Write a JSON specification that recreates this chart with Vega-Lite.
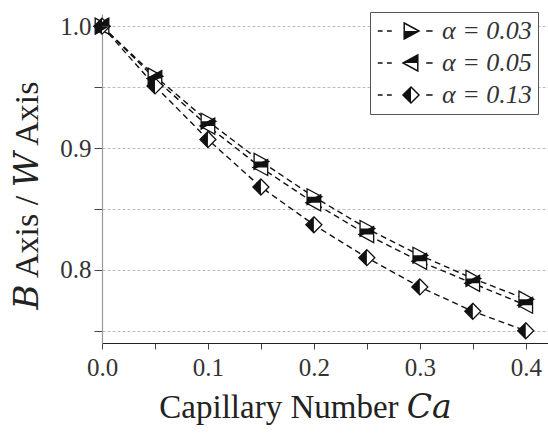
{
  "$schema": "https://vega.github.io/schema/vega-lite/v6.json",
  "width": 446,
  "height": 329,
  "autosize": {"type": "none"},
  "padding": {"left": 102, "top": 14, "right": 0, "bottom": 91},
  "background": "white",
  "data": {
    "values": [
      {"Ca": 0.0, "ratio": 1.0, "series": "α = 0.03"},
      {"Ca": 0.05, "ratio": 0.959, "series": "α = 0.03"},
      {"Ca": 0.1, "ratio": 0.922, "series": "α = 0.03"},
      {"Ca": 0.15, "ratio": 0.889, "series": "α = 0.03"},
      {"Ca": 0.2, "ratio": 0.86, "series": "α = 0.03"},
      {"Ca": 0.25, "ratio": 0.834, "series": "α = 0.03"},
      {"Ca": 0.3, "ratio": 0.812, "series": "α = 0.03"},
      {"Ca": 0.35, "ratio": 0.793, "series": "α = 0.03"},
      {"Ca": 0.4, "ratio": 0.776, "series": "α = 0.03"},
      {"Ca": 0.0, "ratio": 1.0, "series": "α = 0.05"},
      {"Ca": 0.05, "ratio": 0.957, "series": "α = 0.05"},
      {"Ca": 0.1, "ratio": 0.918, "series": "α = 0.05"},
      {"Ca": 0.15, "ratio": 0.884, "series": "α = 0.05"},
      {"Ca": 0.2, "ratio": 0.855, "series": "α = 0.05"},
      {"Ca": 0.25, "ratio": 0.829, "series": "α = 0.05"},
      {"Ca": 0.3, "ratio": 0.807, "series": "α = 0.05"},
      {"Ca": 0.35, "ratio": 0.789, "series": "α = 0.05"},
      {"Ca": 0.4, "ratio": 0.771, "series": "α = 0.05"},
      {"Ca": 0.0, "ratio": 1.0, "series": "α = 0.13"},
      {"Ca": 0.05, "ratio": 0.951, "series": "α = 0.13"},
      {"Ca": 0.1, "ratio": 0.907, "series": "α = 0.13"},
      {"Ca": 0.15, "ratio": 0.868, "series": "α = 0.13"},
      {"Ca": 0.2, "ratio": 0.837, "series": "α = 0.13"},
      {"Ca": 0.25, "ratio": 0.81, "series": "α = 0.13"},
      {"Ca": 0.3, "ratio": 0.786, "series": "α = 0.13"},
      {"Ca": 0.35, "ratio": 0.766, "series": "α = 0.13"},
      {"Ca": 0.4, "ratio": 0.75, "series": "α = 0.13"}
    ]
  },
  "encoding": {
    "x": {
      "field": "Ca",
      "type": "quantitative",
      "scale": {"domain": [0, 0.421], "nice": false},
      "axis": {
        "title": "Capillary Number 𝐶𝑎",
        "values": [0, 0.05, 0.1, 0.15, 0.2, 0.25, 0.3, 0.35, 0.4],
        "labelExpr": "abs(datum.value*10 - round(datum.value*10)) < 0.000001 ? format(datum.value, '.1f') : ''",
        "labelFlush": false,
        "grid": false,
        "tickSize": 6,
        "labelPadding": 6,
        "domainColor": "#222",
        "titleX": 203,
        "titleY": 74,
        "titleAlign": "center",
        "titleBaseline": "alphabetic",
        "titleFontSize": 33
      }
    },
    "y": {
      "field": "ratio",
      "type": "quantitative",
      "scale": {"domain": [0.74, 1.01], "nice": false, "zero": false},
      "axis": {
        "title": "𝐵 Axis / 𝑊 Axis",
        "values": [0.75, 0.8, 0.85, 0.9, 0.95, 1.0],
        "labelExpr": "abs(datum.value*10 - round(datum.value*10)) < 0.000001 ? format(datum.value, '.1f') : ''",
        "labelFlush": false,
        "grid": true,
        "gridColor": "#bdbdbd",
        "gridDash": [3, 2],
        "gridWidth": 1,
        "tickSize": 8,
        "labelPadding": 3,
        "domainColor": "#999",
        "titleAngle": 270,
        "titleX": -65,
        "titleY": 181,
        "titleAlign": "center",
        "titleBaseline": "alphabetic",
        "titleFontSize": 34
      }
    }
  },
  "layer": [
    {
      "mark": {"type": "line", "strokeDash": [6, 4], "strokeWidth": 1.4, "color": "#111"},
      "encoding": {"detail": {"field": "series"}}
    },
    {
      "mark": {"type": "point", "filled": true, "fill": "white", "stroke": "#111", "strokeWidth": 1.3, "size": 256, "opacity": 1},
      "encoding": {
        "shape": {
          "field": "series",
          "type": "nominal",
          "scale": {
            "domain": ["α = 0.03", "α = 0.05", "α = 0.13"],
            "range": ["M-0.85,-1L1,0L-0.85,1Z", "M0.85,-1L-1,0L0.85,1Z", "M0,-1L1,0L0,1L-1,0Z"]
          },
          "legend": {
            "title": null,
            "orient": "none",
            "legendX": 268,
            "legendY": -2,
            "strokeColor": "#555",
            "fillColor": "white",
            "zindex": 0
          }
        }
      }
    },
    {
      "mark": {"type": "point", "filled": true, "fill": "#111", "strokeWidth": 0, "size": 256, "opacity": 1},
      "encoding": {
        "shape": {
          "field": "series",
          "type": "nominal",
          "scale": {
            "domain": ["α = 0.03", "α = 0.05", "α = 0.13"],
            "range": ["M-0.85,0L1,0L-0.85,1Z", "M0.85,-1L-1,0L0.85,0Z", "M0,-1L0,1L-1,0Z"]
          },
          "legend": null
        }
      }
    },
    {
      "transform": [{"filter": "false"}],
      "mark": {"type": "point", "filled": true, "fill": "#111", "strokeWidth": 0, "size": 256, "opacity": 1},
      "encoding": {
        "shape": {
          "field": "series",
          "type": "nominal",
          "scale": {
            "domain": ["α = 0.03", "α = 0.05", "α = 0.13"],
            "range": [
              "M-4.15,-0.1H-3.55V0.1H-4.15ZM-3.0,-0.1H-2.4V0.1H-3.0ZM1.9,-0.1H2.7V0.1H1.9ZM-0.85,0L1,0L-0.85,1Z",
              "M-4.15,-0.1H-3.55V0.1H-4.15ZM-3.0,-0.1H-2.4V0.1H-3.0ZM1.9,-0.1H2.7V0.1H1.9ZM0.85,-1L-1,0L0.85,0Z",
              "M-4.15,-0.1H-3.55V0.1H-4.15ZM-3.0,-0.1H-2.4V0.1H-3.0ZM1.9,-0.1H2.7V0.1H1.9ZM0,-1L0,1L-1,0Z"
            ]
          },
          "legend": {
            "title": null,
            "orient": "none",
            "legendX": 268,
            "legendY": -2,
            "strokeColor": null,
            "labelOpacity": 0,
            "zindex": 1,
            "symbolFillColor": "#111",
            "symbolStrokeWidth": 0,
            "symbolOpacity": 1
          }
        }
      }
    }
  ],
  "resolve": {"scale": {"shape": "independent"}, "legend": {"shape": "independent"}},
  "config": {
    "view": {"stroke": null},
    "axis": {
      "labelFont": "Liberation Serif",
      "labelFontSize": 25,
      "labelColor": "#333",
      "titleFont": "Liberation Serif, DejaVu Serif",
      "titleFontWeight": "normal",
      "titleColor": "#222",
      "tickColor": "#444",
      "domainWidth": 1.2
    },
    "legend": {
      "labelFont": "Liberation Serif",
      "labelFontSize": 26,
      "labelFontStyle": "italic",
      "labelColor": "#333",
      "symbolSize": 256,
      "rowPadding": 6,
      "padding": 6,
      "labelOffset": 18,
      "symbolOffset": 22
    }
  }
}
